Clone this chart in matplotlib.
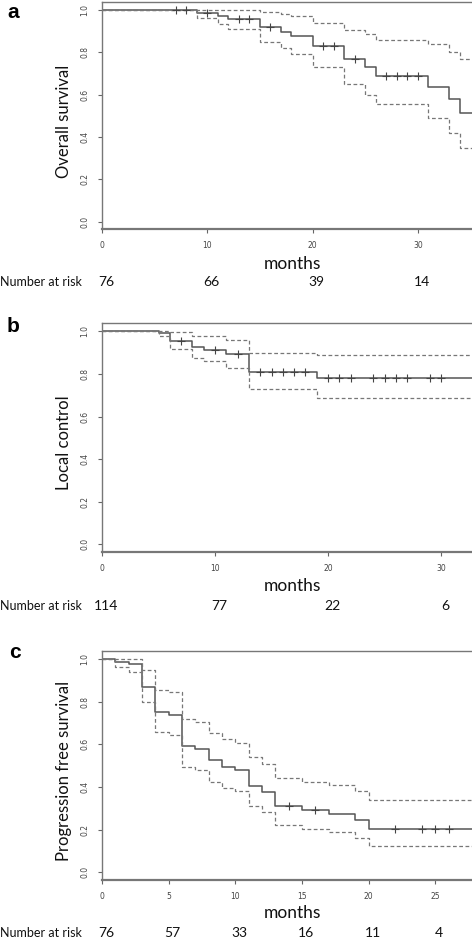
import numpy as np
import matplotlib
matplotlib.use("Agg")
import matplotlib.pyplot as plt

# Overall survival (a)
os_t = [0, 9, 11, 12, 15, 17, 18, 20, 23, 25, 26, 31, 33, 34]
os_s = [1.0, 0.987, 0.973, 0.956, 0.918, 0.896, 0.876, 0.828, 0.767, 0.729, 0.688, 0.638, 0.58, 0.515]
os_up = [1.0, 1.0, 1.0, 1.0, 0.99, 0.981, 0.97, 0.94, 0.905, 0.885, 0.86, 0.838, 0.803, 0.77]
os_lo = [1.0, 0.961, 0.934, 0.909, 0.85, 0.819, 0.79, 0.732, 0.649, 0.60, 0.554, 0.49, 0.417, 0.346]
os_cens = [7, 8, 10, 13, 14, 16, 21, 22, 24, 27, 28, 29, 30]
os_risk_t = [0, 10, 20, 30]
os_risk = [76, 66, 39, 14]

# Local control (b)
lc_t = [0, 5, 6, 8, 9, 11, 13, 19]
lc_s = [1.0, 0.992, 0.954, 0.926, 0.914, 0.892, 0.81, 0.78]
lc_up = [1.0, 1.0, 0.997, 0.98, 0.98, 0.958, 0.90, 0.888]
lc_lo = [1.0, 0.976, 0.917, 0.877, 0.86, 0.827, 0.728, 0.687]
lc_cens = [7, 10, 12, 14, 15, 16, 17, 18, 20, 21, 22, 24, 25, 26, 27, 29, 30]
lc_risk_t = [0, 10, 20, 30]
lc_risk = [114, 77, 22, 6]

# Progression free survival (c)
pfs_t = [0, 1, 2, 3, 4, 5, 6, 7, 8, 9, 10, 11, 12, 13, 15, 17, 19, 20]
pfs_s = [1.0, 0.987, 0.975, 0.868, 0.75, 0.737, 0.59, 0.58, 0.525, 0.495, 0.48,
         0.406, 0.376, 0.311, 0.29, 0.272, 0.247, 0.203]
pfs_up = [1.0, 1.0, 1.0, 0.948, 0.855, 0.846, 0.717, 0.703, 0.651, 0.626, 0.608,
          0.539, 0.508, 0.443, 0.425, 0.407, 0.382, 0.341]
pfs_lo = [1.0, 0.962, 0.939, 0.80, 0.66, 0.645, 0.494, 0.48, 0.425, 0.396, 0.382,
          0.31, 0.281, 0.22, 0.204, 0.187, 0.162, 0.121]
pfs_cens = [14, 16, 22, 24, 25, 26]
pfs_risk_t = [0, 5, 10, 15, 20, 25]
pfs_risk = [76, 57, 33, 16, 11, 4]

W, H = 472, 939
fig = plt.figure(figsize=(W / 100, H / 100), dpi=100)

TXT = ['Lato', 'DejaVu Sans']
LINE = '#555555'


def ftext(x, y, s, **kw):
    # place text by pixel position in the figure
    fig.text(x / W, 1 - y / H, s, **kw)


def km_panel(top, bottom, xmax, ticks, t, s, up, lo, cens, risk_t, risk,
             letter, ylabel, ylab_y, months_y, risk_y, letter_xy):
    ax = fig.add_axes([102 / W, 1 - bottom / H, (W - 102) / W, (bottom - top) / H])
    tt = list(t) + [xmax + 1]
    ax.step(tt, list(s) + [s[-1]], where='post', color=LINE, lw=1.1)
    ax.step(tt, list(up) + [up[-1]], where='post', color='#777777', lw=0.9, ls=(0, (3, 2)))
    ax.step(tt, list(lo) + [lo[-1]], where='post', color='#777777', lw=0.9, ls=(0, (3, 2)))
    idx = np.searchsorted(t, cens, side='right') - 1
    ax.plot(cens, np.array(s)[idx], ls='none', marker='+', ms=6, mew=0.8, color='#444444')
    ax.set_xlim(0, xmax)
    ax.set_ylim(-0.035, 1.038)
    ax.set_xticks(ticks)
    ax.set_yticks([0, 0.2, 0.4, 0.6, 0.8, 1.0])
    ax.set_yticklabels(['0.0', '0.2', '0.4', '0.6', '0.8', '1.0'], rotation=90, va='center')
    ax.tick_params(labelsize=5.5, labelcolor='#444444', color='#666666',
                   length=3, width=0.8, pad=6)
    for sp in ['left', 'top']:
        ax.spines[sp].set_color('#777777')
        ax.spines[sp].set_linewidth(1.0)
    ax.spines['bottom'].set_color('#777777')
    ax.spines['bottom'].set_linewidth(1.6)
    ax.spines['right'].set_visible(False)

    ftext(letter_xy[0], letter_xy[1], letter, fontsize=15, fontweight='bold',
          family=['Liberation Sans', 'DejaVu Sans'], ha='center', va='center')
    ftext(64, ylab_y, ylabel, rotation=90, ha='center', va='center',
          fontsize=12, family=TXT, color='#111111')
    ftext(292, months_y, 'months', ha='center', va='center', fontsize=12.5,
          family=TXT, color='#111111')
    ftext(0, risk_y, 'Number at risk', ha='left', va='center', fontsize=9,
          family=TXT, color='#111111')
    for rt, rn in zip(risk_t, risk):
        x_px = 102 + rt / xmax * (W - 102) + 4
        ftext(x_px, risk_y, str(rn), ha='center', va='center', fontsize=10,
              family=TXT, color='#111111')
    return ax


km_panel(2, 229, 35.15, [0, 10, 20, 30], os_t, os_s, os_up, os_lo, os_cens,
         os_risk_t, os_risk, 'a', 'Overall survival', 121, 264, 282, (13, 12))
km_panel(323.3, 551.7, 32.74, [0, 10, 20, 30], lc_t, lc_s, lc_up, lc_lo, lc_cens,
         lc_risk_t, lc_risk, 'b', 'Local control', 443, 585.7, 605.7, (13, 327))
km_panel(651, 879.7, 27.75, [0, 5, 10, 15, 20, 25], pfs_t, pfs_s, pfs_up, pfs_lo, pfs_cens,
         pfs_risk_t, pfs_risk, 'c', 'Progression free survival', 771, 913.3, 932.7, (15, 652))

fig.savefig('out.png', dpi=100)
